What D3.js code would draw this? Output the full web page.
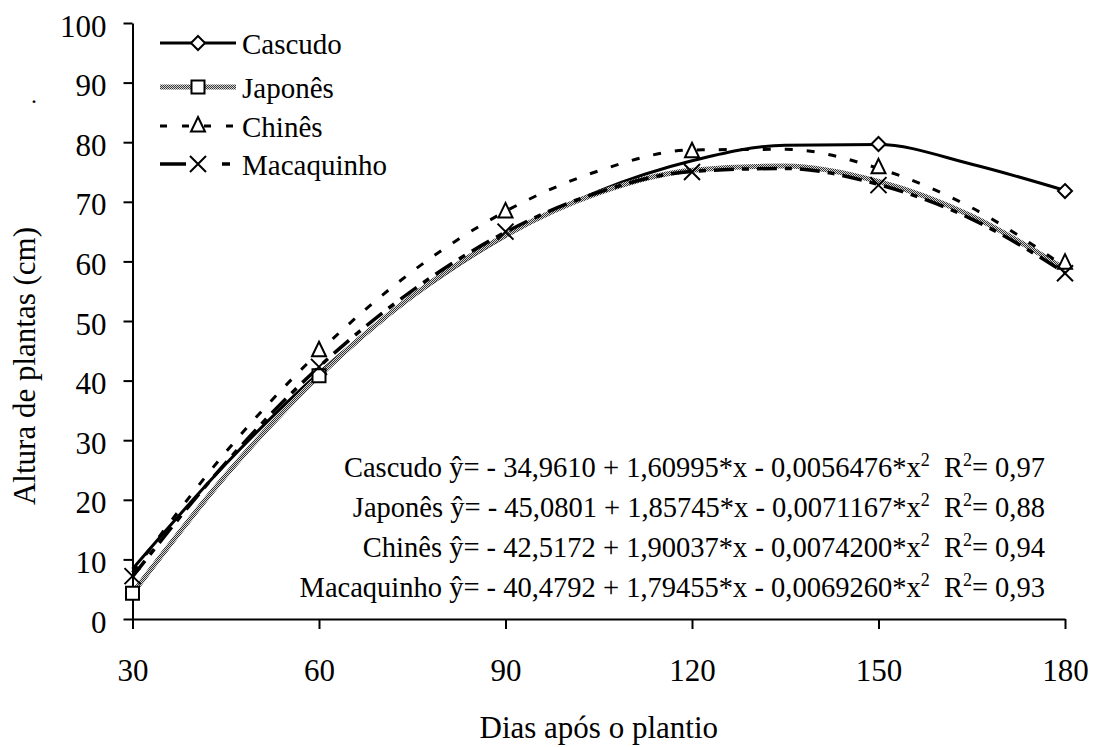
<!DOCTYPE html>
<html>
<head>
<meta charset="utf-8">
<script src="https://cdn.jsdelivr.net/npm/d3@7"></script>
<style>
  html, body { margin: 0; padding: 0; background: #fff; }
  svg { display: block; }
  svg text { font-family: "Times New Roman", "Liberation Serif", "DejaVu Serif", serif !important; fill: #000; }
</style>
</head>
<body>
<svg id="chart" width="1093" height="747"></svg>
<script>
// ---- data ----
const tickDays = [30, 60, 90, 120, 150, 180];
const yTicks = [0, 10, 20, 30, 40, 50, 60, 70, 80, 90, 100];

// observed points (markers); null = marker not visible in the picture
const obsDays = [30, 60, 90, 120, 150, 180];
const cascudoObs    = [null, null, null, null, 79.7, 71.8];
const japonesObs    = [4.3, 40.8, null, null, null, null];
const chinesObs     = [null, 45.0, 68.3, 78.4, 75.7, 59.7];
const macaquinhoObs = [7.2, 42.3, 65.0, 75.0, 72.8, 58.0];

// fitted curves as drawn
const lineDays       = [30, 45, 60, 75, 90, 105, 120, 135, 150, 165, 180];
const cascudoLine    = [8.4, 26.0, 41.3, 54.0, 64.2, 71.8, 76.9, 79.5, 79.6, 76.3, 71.9];
const japonesLine    = [4.3, 24.1, 40.8, 54.2, 64.4, 71.5, 75.3, 76.0, 73.4, 67.6, 58.7];
const chinesLine     = [7.8, 28.0, 44.8, 58.3, 68.4, 75.2, 78.7, 78.8, 75.6, 69.0, 59.1];
const macaquinhoLine = [7.1, 26.2, 42.3, 55.1, 64.9, 71.6, 75.1, 75.6, 72.9, 67.1, 58.1];

const seriesNames = ["Cascudo", "Japonês", "Chinês", "Macaquinho"];
const equations = [
  ["Cascudo ŷ= - 34,9610 + 1,60995*x - 0,0056476*x", "0,97"],
  ["Japonês ŷ= - 45,0801 + 1,85745*x - 0,0071167*x", "0,88"],
  ["Chinês ŷ= - 42,5172 + 1,90037*x - 0,0074200*x", "0,94"],
  ["Macaquinho ŷ= - 40,4792 + 1,79455*x - 0,0069260*x", "0,93"]
];
const xTitle = "Dias após o plantio";
const yTitle = "Altura de plantas (cm)";

// ---- drawing ----
const svg = d3.select("#chart");
const defs = svg.append("defs");
const pat = defs.append("pattern").attr("id", "dither")
  .attr("width", 2).attr("height", 2).attr("patternUnits", "userSpaceOnUse");
pat.append("rect").attr("width", 2).attr("height", 2).attr("fill", "#d8d8d8");
pat.append("rect").attr("width", 1).attr("height", 1).attr("fill", "#333");
pat.append("rect").attr("x", 1).attr("y", 1).attr("width", 1).attr("height", 1).attr("fill", "#333");

const x = d3.scaleLinear().domain([30, 180]).range([132.5, 1065]);
const y = d3.scaleLinear().domain([0, 100]).range([619, 23]);

// axes
const xAxis = svg.append("g").attr("transform", `translate(0,${y(0)})`)
  .call(d3.axisBottom(x).tickValues(tickDays).tickSize(10).tickPadding(30).tickSizeOuter(0));
const yAxis = svg.append("g").attr("transform", `translate(${x(30)},0)`)
  .call(d3.axisLeft(y).tickValues(yTicks).tickSize(9).tickPadding(17).tickSizeOuter(0));
[xAxis, yAxis].forEach(g => {
  g.attr("font-family", null);
  g.select(".domain").attr("stroke", "#000").attr("stroke-width", 2);
  g.selectAll(".tick line").attr("stroke", "#000").attr("stroke-width", 2);
  g.selectAll(".tick text").attr("fill", "#000").style("font-size", "31px");
});
yAxis.selectAll(".tick text").attr("dy", "0.42em");

// series styles
const styles = [
  { stroke: "#000", width: 3, dash: null, marker: "diamond" },
  { stroke: "url(#dither)", width: 5, dash: null, marker: "square" },
  { stroke: "#000", width: 3, dash: "8,14", marker: "triangle" },
  { stroke: "#000", width: 3.5, dash: "20,8,7,8", marker: "cross" }
];
const lineData = [cascudoLine, japonesLine, chinesLine, macaquinhoLine];
const obsData = [cascudoObs, japonesObs, chinesObs, macaquinhoObs];

const lineGen = d3.line().x(d => x(d[0])).y(d => y(d[1])).curve(d3.curveMonotoneX);

function markerPath(type) {
  if (type === "diamond") return "M0,-7L7,0L0,7L-7,0Z";
  if (type === "square") return "M-6.5,-6.5H6.5V6.5H-6.5Z";
  if (type === "triangle") return "M0,-9L7,5.5H-7Z";
  return "M-8,-8L8,8M8,-8L-8,8";
}
function drawMarker(g, type, cx, cy) {
  g.append("path").attr("d", markerPath(type))
    .attr("transform", `translate(${cx},${cy})`)
    .attr("fill", type === "cross" ? "none" : "#fff")
    .attr("stroke", "#000").attr("stroke-width", 2);
}

lineData.forEach((vals, i) => {
  const st = styles[i];
  svg.append("path")
    .datum(lineDays.map((d, k) => [d, vals[k]]))
    .attr("d", lineGen)
    .attr("fill", "none")
    .attr("stroke", st.stroke)
    .attr("stroke-width", st.width)
    .attr("stroke-dasharray", st.dash);
});
obsData.forEach((vals, i) => {
  const g = svg.append("g");
  obsDays.forEach((d, k) => {
    if (vals[k] !== null) drawMarker(g, styles[i].marker, x(d), y(vals[k]));
  });
});

// legend
const legendY = [43, 87, 126, 164];
seriesNames.forEach((name, i) => {
  const st = styles[i];
  const g = svg.append("g");
  g.append("line").attr("x1", 160).attr("x2", 236)
    .attr("y1", legendY[i]).attr("y2", legendY[i])
    .attr("stroke", st.stroke).attr("stroke-width", st.width)
    .attr("stroke-dasharray", i === 2 ? "7,15" : (i === 3 ? "26,36,8,20" : null));
  drawMarker(g, st.marker, 198, legendY[i]);
  g.append("text").attr("x", 242).attr("y", legendY[i] + 11)
    .style("font-size", "29px").text(name);
});

// stray dot near y axis
svg.append("text").attr("x", 31).attr("y", 103).style("font-size", "24px").text(".");

// equations
const eqY = [477, 517, 557, 597];
equations.forEach((eq, i) => {
  const t = svg.append("text").attr("x", 1045).attr("y", eqY[i])
    .attr("text-anchor", "end").style("font-size", "28.5px")
    .style("white-space", "pre").attr("xml:space", "preserve");
  t.append("tspan").text(eq[0]);
  t.append("tspan").attr("dy", -11).style("font-size", "18px").text("2");
  t.append("tspan").attr("dy", 11).text("  R");
  t.append("tspan").attr("dy", -11).style("font-size", "18px").text("2");
  t.append("tspan").attr("dy", 11).text("= " + eq[1]);
});

// axis titles
svg.append("text").attr("x", x(105)).attr("y", 738)
  .attr("text-anchor", "middle").style("font-size", "31px").text(xTitle);
svg.append("text").attr("transform", "translate(35,366) rotate(-90)")
  .attr("text-anchor", "middle").style("font-size", "31px").text(yTitle);
</script>
</body>
</html>
